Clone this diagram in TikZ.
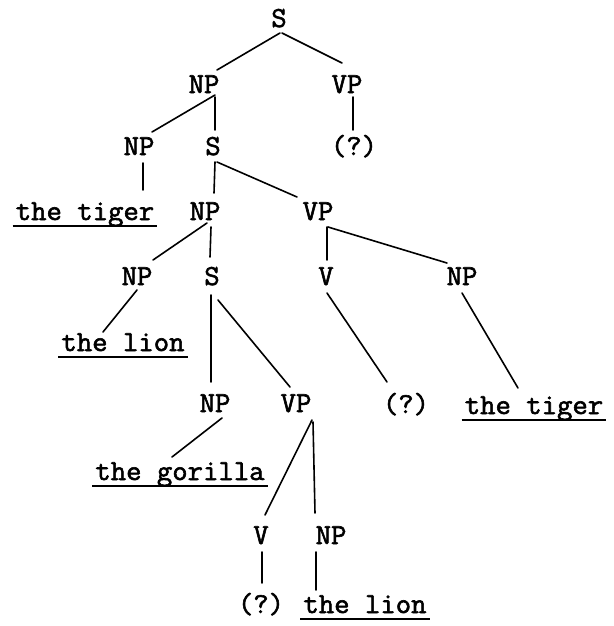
\documentclass[tikz,border=0pt]{standalone}
\usepackage{fontspec}
\newfontfamily\tw{Latin Modern Mono}[FakeBold=2,FakeStretch=1.03]
\begin{document}
\begin{tikzpicture}[x=1pt,y=-1pt,
  lab/.style={anchor=base,inner sep=0pt,font=\tw\fontsize{29}{33}\selectfont},
  edge/.style={line width=1.6pt,line cap=round},
  ul/.style={line width=1.4pt}]
\useasboundingbox (0,0) rectangle (613,626);
% nodes
\node[lab] (s1) at (279,27) {S};
\node[lab] (np2) at (204,93) {NP};
\node[lab] (vp2) at (347,93) {VP};
\node[lab] (np3) at (139,155) {NP};
\node[lab] (s3) at (213,155) {S};
\node[lab] (q3) at (354,155) {(?)};
\node[lab] (tiger4) at (85,220) {the tiger};
\node[lab] (np4) at (205,220) {NP};
\node[lab] (vp4) at (318,220) {VP};
\node[lab] (np5) at (137,285) {NP};
\node[lab] (s5) at (212,285) {S};
\node[lab] (v5) at (326,285) {V};
\node[lab] (npb5) at (462,285) {NP};
\node[lab] (lion6) at (123,351) {the lion};
\node[lab] (np7) at (215,412) {NP};
\node[lab] (vp7) at (296,412) {VP};
\node[lab] (q7) at (406,413) {(?)};
\node[lab] (tiger7) at (534,414) {the tiger};
\node[lab] (gor8) at (180,480) {the gorilla};
\node[lab] (v9) at (261,544) {V};
\node[lab] (np9) at (331,544) {NP};
\node[lab] (q10) at (261,613) {(?)};
\node[lab] (lion10) at (365,613) {the lion};
% underlines
\foreach \n in {tiger4,lion6,tiger7,gor8,lion10}
  \draw[ul] ([shift={(-3,6)}]\n.base west) -- ([shift={(3,6)}]\n.base east);
% connectors
\draw[edge] ([shift={(1,6)}]s1.base) -- ([shift={(13,-23)}]np2.base);
\draw[edge] ([shift={(3,6)}]s1.base) -- ([shift={(-5,-30)}]vp2.base);
\draw[edge] ([shift={(11,2)}]np2.base) -- ([shift={(13,-23)}]np3.base);
\draw[edge] ([shift={(11,4)}]np2.base) -- ([shift={(2,-25)}]s3.base);
\draw[edge] ([shift={(6,4)}]vp2.base) -- ([shift={(-1,-25)}]q3.base);
\draw[edge] ([shift={(4,8)}]np3.base) -- ([shift={(58,-30)}]tiger4.base);
\draw[edge] ([shift={(2,7)}]s3.base) -- ([shift={(9,-27)}]np4.base);
\draw[edge] ([shift={(4,7)}]s3.base) -- ([shift={(-21,-23)}]vp4.base);
\draw[edge] ([shift={(2,3)}]np4.base) -- ([shift={(16,-25)}]np5.base);
\draw[edge] ([shift={(6,7)}]np4.base) -- ([shift={(-2,-28)}]s5.base);
\draw[edge] ([shift={(9,7)}]vp4.base) -- ([shift={(1,-25)}]v5.base);
\draw[edge] ([shift={(10,7)}]vp4.base) -- ([shift={(-15,-22)}]npb5.base);
\draw[edge] ([shift={(0,5)}]np5.base) -- ([shift={(-20,-19)}]lion6.base);
\draw[edge] ([shift={(-1,10)}]s5.base) -- ([shift={(-4,-30)}]np7.base);
\draw[edge] ([shift={(6,15)}]s5.base) -- ([shift={(-6,-25)}]vp7.base);
\draw[edge] ([shift={(1,8)}]v5.base) -- ([shift={(-19,-31)}]q7.base);
\draw[edge] ([shift={(0,8)}]npb5.base) -- ([shift={(-16,-26)}]tiger7.base);
\draw[edge] ([shift={(7,6)}]np7.base) -- ([shift={(-8,-23)}]gor8.base);
\draw[edge] ([shift={(16,8)}]vp7.base) -- ([shift={(4,-29)}]v9.base);
\draw[edge] ([shift={(17,10)}]vp7.base) -- ([shift={(-16,-31)}]np9.base);
\draw[edge] ([shift={(1,8)}]v9.base) -- ([shift={(1,-30)}]q10.base);
\draw[edge] ([shift={(-15,8)}]np9.base) -- ([shift={(-49,-23)}]lion10.base);
\end{tikzpicture}
\end{document}
